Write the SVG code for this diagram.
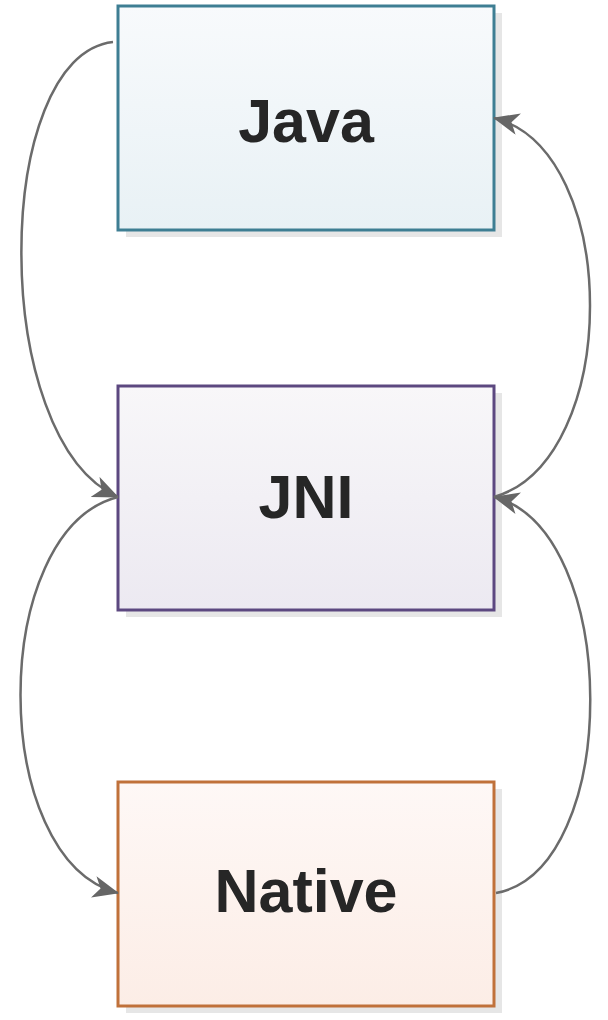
<svg xmlns="http://www.w3.org/2000/svg" width="608" height="1020" viewBox="0 0 608 1020">
<defs>
<linearGradient id="gJava" x1="0" y1="0" x2="0" y2="1"><stop offset="0" stop-color="#f8fafc"/><stop offset="1" stop-color="#e8f1f5"/></linearGradient>
<linearGradient id="gJNI" x1="0" y1="0" x2="0" y2="1"><stop offset="0" stop-color="#f8f7f9"/><stop offset="1" stop-color="#ece9f1"/></linearGradient>
<linearGradient id="gNative" x1="0" y1="0" x2="0" y2="1"><stop offset="0" stop-color="#fef8f6"/><stop offset="1" stop-color="#fcede6"/></linearGradient>
<marker id="arr" viewBox="0 0 26 22" refX="25" refY="11" markerWidth="26" markerHeight="22" markerUnits="userSpaceOnUse" orient="auto">
<path d="M0,0 L26,11 L0,22 L7,11 Z" fill="#666"/>
</marker>
<style>
.shadow{fill:#e6e6e6}
.box{stroke-width:3}
.lbl{font-family:"Liberation Sans",Arial,sans-serif;font-weight:bold;font-size:61px;fill:#262626;text-anchor:middle}
.conn path{fill:none;stroke:#6b6b6b;stroke-width:2.5;marker-end:url(#arr)}
</style>
</defs>
<g id="java">
<rect class="shadow" x="126" y="13" width="376" height="224"/>
<rect class="box" x="118" y="6" width="376" height="224" fill="url(#gJava)" stroke="#3e7e93"/>
<text class="lbl" x="306" y="142">Java</text>
</g>
<g id="jni">
<rect class="shadow" x="126" y="393" width="376" height="224"/>
<rect class="box" x="118" y="386" width="376" height="224" fill="url(#gJNI)" stroke="#5c4880"/>
<text class="lbl" x="306" y="518">JNI</text>
</g>
<g id="native">
<rect class="shadow" x="126" y="789" width="376" height="224"/>
<rect class="box" x="118" y="782" width="376" height="224" fill="url(#gNative)" stroke="#c0713a"/>
<text class="lbl" x="306" y="912">Native</text>
</g>
<g id="connectors" class="conn">
<path d="M113,42 C-8,55 -12,440 118,497"/>
<path d="M118,497 C-12,530 -12,860 118,893"/>
<path d="M494,497 C622,460 622,150 494,118"/>
<path d="M496,893 C622,870 622,530 494,497"/>
</g>
</svg>
